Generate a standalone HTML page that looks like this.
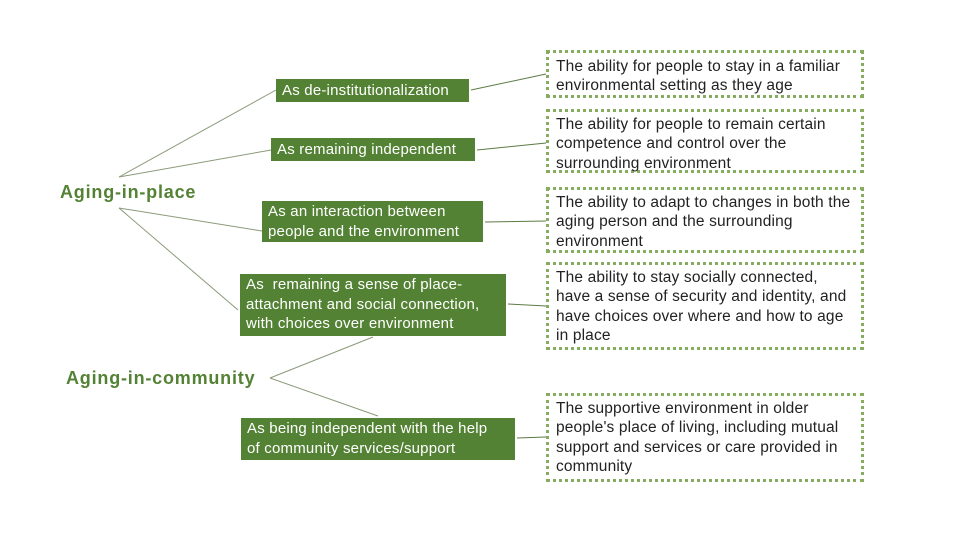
<!DOCTYPE html>
<html><head><meta charset="utf-8"><style>
body{margin:0;width:960px;height:540px;background:#fff;position:relative;overflow:hidden;font-family:"Liberation Sans",Arial,sans-serif;}
.g{position:absolute;background:#548235;color:#fff;font-size:15px;letter-spacing:0.2px;line-height:19.5px;padding:0 6px;box-sizing:border-box;white-space:nowrap;}
.d{position:absolute;left:546px;width:318px;border:3px dotted #86ad5f;box-sizing:border-box;color:#222;font-size:15.5px;letter-spacing:0.15px;line-height:19.3px;padding:3px 0 0 7px;background:#fff;white-space:nowrap;}
.t{position:absolute;color:#548235;font-weight:bold;font-size:18px;letter-spacing:0.8px;}
svg{position:absolute;left:0;top:0}
</style></head><body>
<svg width="960" height="540"><g stroke="#8a9a7a" stroke-width="1" fill="none">
<line x1="119" y1="177" x2="276" y2="90"/>
<line x1="119" y1="177" x2="271" y2="150"/>
<line x1="119" y1="208" x2="262" y2="231"/>
<line x1="119" y1="208" x2="238" y2="310"/>
<line x1="270" y1="378" x2="373" y2="337"/>
<line x1="270" y1="378" x2="378" y2="416"/>
</g><g stroke="#5d7a45" stroke-width="1">
<line x1="471" y1="90" x2="546" y2="74"/>
<line x1="477" y1="150" x2="546" y2="143"/>
<line x1="485" y1="222" x2="546" y2="221"/>
<line x1="508" y1="304" x2="546" y2="306"/>
<line x1="517" y1="438" x2="546" y2="437"/>
</g></svg>
<div class="t" style="left:60px;top:182px">Aging-in-place</div>
<div class="t" style="left:66px;top:368px">Aging-in-community</div>
<div class="g" style="left:276px;top:79px;width:193px;height:23px;line-height:23px">As de-institutionalization</div>
<div class="g" style="left:271px;top:138px;width:204px;height:23px;line-height:23px">As remaining independent</div>
<div class="g" style="left:262px;top:201px;width:221px;height:41px;padding-top:1px">As an interaction between<br>people and the environment</div>
<div class="g" style="left:240px;top:274px;width:266px;height:62px;padding-top:1px">As &nbsp;remaining a sense of place-<br>attachment and social connection,<br>with choices over environment</div>
<div class="g" style="left:241px;top:418px;width:274px;height:42px;padding-top:1px">As being independent with the help<br>of community services/support</div>
<div class="d" style="top:50px;height:48px;padding-top:4px">The ability for people to stay in a familiar<br>environmental setting as they age</div>
<div class="d" style="top:109px;height:64px">The ability for people to remain certain<br>competence and control over the<br>surrounding environment</div>
<div class="d" style="top:187px;height:66px">The ability to adapt to changes in both the<br>aging person and the surrounding<br>environment</div>
<div class="d" style="top:262px;height:88px">The ability to stay socially connected,<br>have a sense of security and identity, and<br>have choices over where and how to age<br>in place</div>
<div class="d" style="top:393px;height:89px">The supportive environment in older<br>people's place of living, including mutual<br>support and services or care provided in<br>community</div>
</body></html>
